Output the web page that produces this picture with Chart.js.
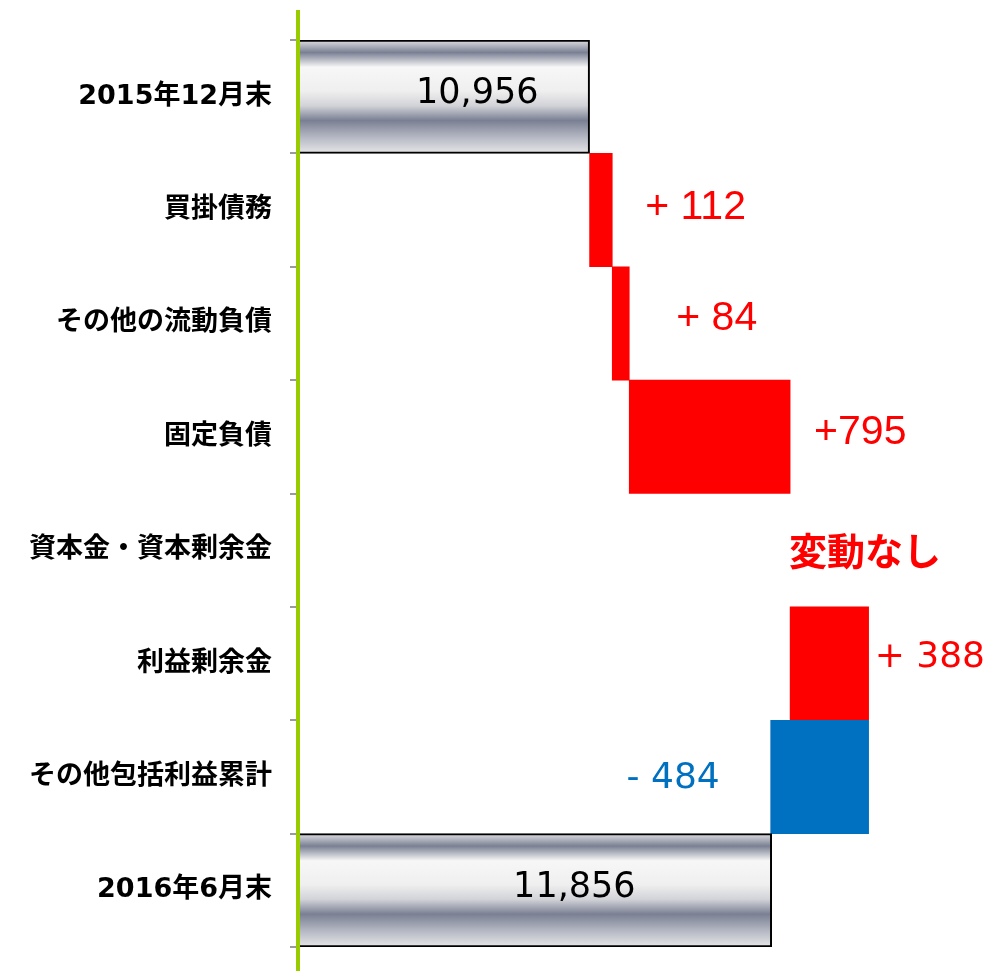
<!DOCTYPE html>
<html>
<head>
<meta charset="utf-8">
<script src="https://cdn.jsdelivr.net/npm/chart.js@4.4.1/dist/chart.umd.min.js"></script>
<style>
  body { margin: 0; background: #ffffff; }
</style>
</head>
<body>
<canvas id="myChart" width="987" height="971"></canvas>
<script>
// データ
var categories = [
  "2015年12月末",
  "買掛債務",
  "その他の流動負債",
  "固定負債",
  "資本金・資本剰余金",
  "利益剰余金",
  "その他包括利益累計",
  "2016年6月末",
];
var startTotal = 10956;
var endTotal = 11856;
var changes = [112, 84, 795, 0, 388, -484];
var valueLabels = ["10,956", "+ 112", "+ 84", "+795", "変動なし", "+ 388", "- 484", "11,856"];
var axisMin = 9510;
var axisMax = 12920;

// ウォーターフォールの範囲を作る
var ranges = [[axisMin, startTotal]];
var levels = [startTotal];
var running = startTotal;
for (var i = 0; i < changes.length; i++) {
  if (changes[i] === 0) {
    ranges.push(null);
  } else {
    ranges.push([running, running + changes[i]]);
  }
  running += changes[i];
  levels.push(running);
}
ranges.push([axisMin, endTotal]);
levels.push(endTotal);

var RED = "#ff0000";
var BLUE = "#0070c0";

// ラベルの見た目
var labelStyle = [
  { anchor: "mid", dx: 34, dy: -3, align: "center", font: "35px 'DejaVu Sans'", color: "#000000" },
  { anchor: "right", dx: 33, dy: -2, align: "left", font: "41px 'Liberation Sans'", color: RED },
  { anchor: "right", dx: 47, dy: -5, align: "left", font: "41px 'Liberation Sans'", color: RED },
  { anchor: "right", dx: 24, dy: -4, align: "left", font: "41px 'Liberation Sans'", color: RED },
  { anchor: "right", dx: -1, dy: 0, align: "left", font: "bold 38px 'Noto Sans CJK JP'", color: RED },
  { anchor: "right", dx: 6, dy: -6, align: "left", font: "36px 'DejaVu Sans'", color: RED },
  { anchor: "left", dx: -51, dy: 2, align: "right", font: "36px 'DejaVu Sans'", color: BLUE },
  { anchor: "mid", dx: 40, dy: -2, align: "center", font: "35px 'DejaVu Sans'", color: "#000000" },
];

function isTotal(i) {
  return i === 0 || i === categories.length - 1;
}

function metalGradient(chart, i) {
  var area = chart.chartArea;
  if (!area) return "#cccccc";
  var h = (area.bottom - area.top) / categories.length;
  var cy = chart.scales.y.getPixelForValue(i);
  var g = chart.ctx.createLinearGradient(0, cy - h / 2, 0, cy + h / 2);
  g.addColorStop(0, "#e0e0e2");
  g.addColorStop(0.11, "#7a8093");
  g.addColorStop(0.24, "#f7f7f7");
  g.addColorStop(0.45, "#efefef");
  g.addColorStop(0.58, "#d2d3d8");
  g.addColorStop(0.71, "#7a8093");
  g.addColorStop(0.86, "#b6b9c4");
  g.addColorStop(1, "#e6e6e8");
  return g;
}

var axisLinePlugin = {
  id: "axisLine",
  afterDatasetsDraw: function (chart) {
    var ctx = chart.ctx;
    var area = chart.chartArea;
    ctx.save();
    ctx.strokeStyle = "#99cc00";
    ctx.lineWidth = 4;
    ctx.beginPath();
    ctx.moveTo(area.left + 1, area.top - 30);
    ctx.lineTo(area.left + 1, chart.height);
    ctx.stroke();
    ctx.restore();
  },
};

var valueLabelPlugin = {
  id: "valueLabels",
  afterDraw: function (chart) {
    var ctx = chart.ctx;
    var xs = chart.scales.x;
    var ys = chart.scales.y;
    ctx.save();
    ctx.textBaseline = "middle";
    for (var i = 0; i < valueLabels.length; i++) {
      var st = labelStyle[i];
      var r = ranges[i];
      var lo, hi;
      if (r) {
        lo = xs.getPixelForValue(Math.min(r[0], r[1]));
        hi = xs.getPixelForValue(Math.max(r[0], r[1]));
      } else {
        lo = hi = xs.getPixelForValue(levels[i]);
      }
      var x;
      if (st.anchor === "mid") x = (lo + hi) / 2;
      else if (st.anchor === "right") x = hi;
      else x = lo;
      ctx.font = st.font;
      ctx.fillStyle = st.color;
      ctx.textAlign = st.align;
      ctx.fillText(valueLabels[i], x + st.dx, ys.getPixelForValue(i) + st.dy);
    }
    ctx.restore();
  },
};

var ctx = document.getElementById("myChart").getContext("2d");
var myChart = new Chart(ctx, {
  type: "bar",
  data: {
    labels: categories,
    datasets: [
      {
        data: ranges,
        backgroundColor: function (c) {
          var i = c.dataIndex;
          if (isTotal(i)) return metalGradient(c.chart, i);
          return changes[i - 1] < 0 ? BLUE : RED;
        },
        borderColor: function (c) {
          return isTotal(c.dataIndex) ? "#000000" : "rgba(0,0,0,0)";
        },
        borderWidth: function (c) {
          return isTotal(c.dataIndex) ? 2 : 0;
        },
        borderSkipped: false,
        barPercentage: 1,
        categoryPercentage: 1,
      },
    ],
  },
  options: {
    indexAxis: "y",
    responsive: false,
    animation: false,
    devicePixelRatio: 1,
    layout: { padding: { top: 40, bottom: 24, left: 0, right: 0 } },
    plugins: {
      legend: { display: false },
      tooltip: { enabled: false },
    },
    scales: {
      x: {
        display: false,
        min: axisMin,
        max: axisMax,
      },
      y: {
        afterFit: function (scale) {
          scale.width = 297;
          scale.paddingTop = 0;
          scale.paddingBottom = 0;
        },
        border: { display: false },
        grid: {
          drawOnChartArea: false,
          drawTicks: true,
          tickLength: 7,
          color: "#9a9a9a",
          lineWidth: 2,
        },
        ticks: {
          padding: 18,
          color: "#000000",
          font: { family: "'DejaVu Sans', 'Noto Sans CJK JP'", size: 27, weight: "bold" },
        },
      },
    },
  },
  plugins: [axisLinePlugin, valueLabelPlugin],
});
</script>
</body>
</html>
